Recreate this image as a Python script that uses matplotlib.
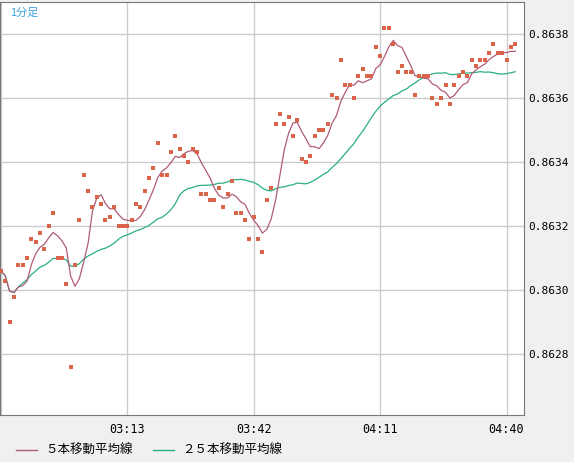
import matplotlib
matplotlib.use("Agg")
import matplotlib.pyplot as plt
import numpy as np
import pandas as pd

prices = [0.86306,0.86303,0.86290,0.86298,0.86308,0.86308,0.86310,0.86316,0.86315,0.86318,
0.86313,0.86320,0.86324,0.86310,0.86310,0.86302,0.86276,0.86308,0.86322,0.86336,
0.86331,0.86326,0.86329,0.86327,0.86322,0.86323,0.86326,0.86320,0.86320,0.86320,
0.86322,0.86327,0.86326,0.86331,0.86335,0.86338,0.86346,0.86336,0.86336,0.86343,
0.86348,0.86344,0.86342,0.86340,0.86344,0.86343,0.86330,0.86330,0.86328,0.86328,
0.86332,0.86326,0.86330,0.86334,0.86324,0.86324,0.86322,0.86316,0.86323,0.86316,
0.86312,0.86328,0.86332,0.86352,0.86355,0.86352,0.86354,0.86348,0.86353,0.86341,
0.86340,0.86342,0.86348,0.86350,0.86350,0.86352,0.86361,0.86360,0.86372,0.86364,
0.86364,0.86360,0.86367,0.86369,0.86367,0.86367,0.86376,0.86373,0.86382,0.86382,
0.86377,0.86368,0.86370,0.86368,0.86368,0.86361,0.86367,0.86367,0.86367,0.86360,
0.86358,0.86360,0.86364,0.86358,0.86364,0.86367,0.86368,0.86367,0.86372,0.86370,
0.86372,0.86372,0.86374,0.86377,0.86374,0.86374,0.86372,0.86376,0.86377]
tick_pos = [29, 58, 87, 116]
tick_labels = ["03:13", "03:42", "04:11", "04:40"]
y_ticks = [0.8628, 0.8630, 0.8632, 0.8634, 0.8636, 0.8638]
legend_labels = ["５本移動平均線", "２５本移動平均線"]

plt.rcParams['font.family'] = ['Noto Sans CJK JP', 'DejaVu Sans']
s = pd.Series(prices)
ma5 = s.rolling(5, min_periods=1).mean()
ma25 = s.rolling(25, min_periods=1).mean()
x = np.arange(len(prices))

fig = plt.figure(figsize=(5.74, 4.62), dpi=100, facecolor='#f0f0f0')
ax = fig.add_axes([0.0, 47/462, 524/574, 413/462])
ax.set_facecolor('white')
ax.plot(x, ma25, color='#2ab07f', lw=0.9, zorder=2)
ax.plot(x, ma5, color='#b05a7a', lw=0.9, zorder=3)
ax.scatter(x, prices, marker='s', s=7, color='#d9644a', linewidths=0, zorder=4)
ax.set_xlim(-0.2, 120)
ax.set_ylim(0.86261, 0.86390)
ax.set_xticks([0] + tick_pos)
ax.set_xticklabels([""] + tick_labels, family='DejaVu Sans Mono', fontsize=8.5)
ax.set_yticks(y_ticks)
ax.set_yticklabels([f"{v:.4f}" for v in y_ticks], family='DejaVu Sans Mono', fontsize=8)
ax.yaxis.tick_right()
ax.tick_params(axis='y', length=0, pad=3)
ax.tick_params(axis='x', length=0, pad=6)
ax.grid(True, color='#cccccc', lw=1)
ax.set_axisbelow(True)
for sp in ax.spines.values():
    sp.set_color('#777777')
ax.text(0.02, 0.985, "1分足", transform=ax.transAxes, color='#3aa0e0', fontsize=8, va='top')

fig.lines.append(plt.Line2D([16/574, 37/574], [12/462, 12/462], color='#b05a7a', lw=1, transform=fig.transFigure))
fig.text(45/574, 12/462, legend_labels[0], fontsize=9, va='center')
fig.lines.append(plt.Line2D([153/574, 174/574], [12/462, 12/462], color='#2ab07f', lw=1, transform=fig.transFigure))
fig.text(182/574, 12/462, legend_labels[1], fontsize=9, va='center')
fig.savefig("out.png", dpi=100, facecolor=fig.get_facecolor())
